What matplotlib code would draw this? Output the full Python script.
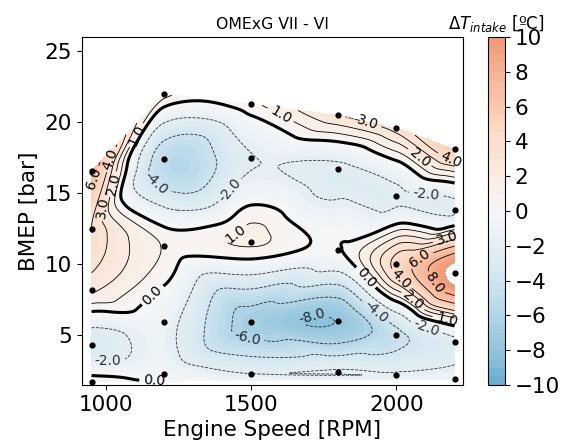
import numpy as np
import matplotlib
matplotlib.use("Agg")
import matplotlib.pyplot as plt
import matplotlib.tri as mtri
from matplotlib.colors import ListedColormap

# measured operating points (engine speed, BMEP) and intake temperature difference
rpm = [950, 950, 950, 950, 950,
       1200, 1200, 1200, 1200, 1200,
       1500, 1500, 1500, 1500, 1500,
       1800, 1800, 1800, 1800, 1800,
       2000, 2000, 2000, 2000, 2000,
       2200, 2200, 2200, 2200, 2200]
bmep = [1.7, 4.3, 8.2, 12.5, 16.6,
        2.3, 5.9, 11.3, 17.4, 22.0,
        2.3, 5.9, 11.6, 17.5, 21.3,
        2.4, 6.0, 11.0, 16.7, 20.5,
        2.2, 5.0, 10.0, 14.8, 19.6,
        1.9, 4.5, 9.4, 13.8, 18.1]
dT = [0.8, -3.0, 2.2, 4.0, 7.0,
      -0.8, -1.3, 0.9, -5.2, 1.5,
      -2.0, -6.8, 1.2, -2.1, 0.8,
      -1.7, -7.9, -0.1, -2.4, 3.0,
      -1.8, -4.5, 4.5, -2.4, 3.5,
      -1.0, -2.5, 11.0, -2.3, 5.5]

title = "OMExG VII - VI"
cbar_ticks = [-10, -8, -6, -4, -2, 0, 2, 4, 6, 8, 10]
neg_levels = [-8, -6, -4, -2]
pos_levels = [1, 2, 3, 4, 6, 8]


def make_cmap():
    base = plt.get_cmap("RdBu_r")
    cols = np.vstack([base(np.linspace(0.25, 0.5, 128)),
                      base(np.linspace(0.5, 0.72, 128))])
    return ListedColormap(cols)


def main():
    x = np.array(rpm, dtype=float)
    y = np.array(bmep, dtype=float)
    z = np.array(dT, dtype=float)

    tri = mtri.Triangulation(x, y)
    interp = mtri.CubicTriInterpolator(tri, z, kind="geom")
    xi = np.linspace(x.min(), x.max(), 400)
    yi = np.linspace(y.min(), y.max(), 400)
    X, Y = np.meshgrid(xi, yi)
    Z = interp(X, Y)

    fig = plt.figure(figsize=(5.63, 4.46), dpi=100)
    ax = fig.add_axes([0.1451, 0.1368, 0.6778, 0.7802])
    cax = fig.add_axes([0.8663, 0.1368, 0.0307, 0.7802])

    cf = ax.contourf(X, Y, Z, levels=np.linspace(-10, 10, 41), cmap=make_cmap(),
                     vmin=-10, vmax=10)
    cn = ax.contour(X, Y, Z, levels=neg_levels, colors="k", linewidths=0.6,
                    linestyles="dashed", alpha=0.8)
    cp = ax.contour(X, Y, Z, levels=pos_levels, colors="k", linewidths=0.6)
    c0 = ax.contour(X, Y, Z, levels=[0], colors="k", linewidths=2.2)
    ax.clabel(cn, fmt="%.1f", fontsize=10)
    ax.clabel(cp, fmt="%.1f", fontsize=10)
    ax.clabel(c0, fmt="%.1f", fontsize=10)

    ax.scatter(x, y, s=12, color="k", zorder=5)

    ax.set_xlim(916, 2230)
    ax.set_ylim(1.5, 26)
    ax.set_xticks([1000, 1500, 2000])
    ax.set_yticks([5, 10, 15, 20, 25])
    ax.tick_params(labelsize=15.5)
    ax.set_xlabel("Engine Speed [RPM]", fontsize=15.5)
    ax.set_ylabel("BMEP [bar]", fontsize=15.5)
    ax.set_title(title, fontsize=11.3)

    cb = fig.colorbar(cf, cax=cax, ticks=cbar_ticks)
    cb.ax.tick_params(labelsize=15.5)
    cb.ax.set_title(r"$\Delta T_{intake}$ [ºC]", fontsize=12)

    fig.savefig("out.png", dpi=100)


if __name__ == "__main__":
    main()
